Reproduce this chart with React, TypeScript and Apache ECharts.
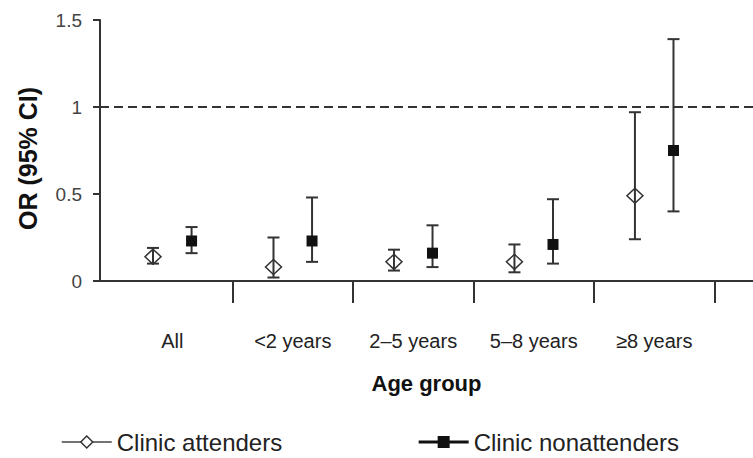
import React, { useEffect, useRef } from "react";
import * as echarts from "echarts";

const categories = ["All", "<2 years", "2–5 years", "5–8 years", "≥8 years"];
const attendersOR = [0.14, 0.08, 0.11, 0.11, 0.49];
const attendersLow = [0.10, 0.02, 0.06, 0.05, 0.24];
const attendersHigh = [0.19, 0.25, 0.18, 0.21, 0.97];
const nonattendersOR = [0.23, 0.23, 0.16, 0.21, 0.75];
const nonattendersLow = [0.16, 0.11, 0.08, 0.10, 0.40];
const nonattendersHigh = [0.31, 0.48, 0.32, 0.47, 1.39];
const yTicks = [0, 0.5, 1, 1.5];

const FONT = "'Liberation Sans', Arial, Helvetica, sans-serif";
const OFFSET = 0.16;

export default function App() {
  const ref = useRef<HTMLDivElement>(null);
  useEffect(() => {
    if (!ref.current) return;
    const chart = echarts.init(ref.current, undefined, { renderer: "svg" });

    const posA = categories.map((_, i) => i + 0.5 - OFFSET);
    const posN = categories.map((_, i) => i + 0.5 + OFFSET);

    const errA = categories.map((_, i) => [posA[i], attendersLow[i], attendersHigh[i]]);
    const errN = categories.map((_, i) => [posN[i], nonattendersLow[i], nonattendersHigh[i]]);

    const renderErr = (params: any, api: any) => {
      const x = api.value(0);
      const lo = api.value(1);
      const hi = api.value(2);
      const top = api.coord([x, hi]);
      const bot = api.coord([x, lo]);
      const cap = 6;
      const style = { stroke: "#333", lineWidth: 2 };
      return {
        type: "group",
        children: [
          { type: "line", shape: { x1: top[0], y1: top[1], x2: bot[0], y2: bot[1] }, style },
          { type: "line", shape: { x1: top[0] - cap, y1: top[1], x2: top[0] + cap, y2: top[1] }, style },
          { type: "line", shape: { x1: bot[0] - cap, y1: bot[1], x2: bot[0] + cap, y2: bot[1] }, style },
        ],
      };
    };

    chart.setOption({
      animation: false,
      textStyle: { fontFamily: FONT },
      grid: { left: 100, right: 0, top: 20, bottom: 177, containLabel: false },
      xAxis: {
        type: "value",
        min: -0.1,
        max: 5.32,
        splitLine: { show: false },
        axisLine: { onZero: false, lineStyle: { color: "#333", width: 2 } },
        axisTick: {
          show: true,
          customValues: [1, 2, 3, 4, 5],
          length: 22,
          inside: false,
          lineStyle: { color: "#333", width: 2 },
        },
        axisLabel: {
          customValues: categories.map((_, i) => i + 0.5),
          formatter: (v: number) => categories[Math.floor(v)] ?? "",
          fontSize: 20,
          color: "#222",
          fontFamily: FONT,
          margin: 50,
        },
        name: "Age group",
        nameLocation: "middle",
        nameGap: 91,
        nameTextStyle: { fontSize: 22, fontWeight: "bold", color: "#111", fontFamily: FONT },
      },
      yAxis: {
        type: "value",
        min: 0,
        max: 1.5,
        interval: 0.5,
        splitLine: { show: false },
        axisLine: { show: true, onZero: false, lineStyle: { color: "#333", width: 2 } },
        axisTick: { show: true, length: 7, inside: false, lineStyle: { color: "#333", width: 2 } },
        axisLabel: {
          fontSize: 19,
          color: "#444",
          fontFamily: FONT,
          margin: 18,
          formatter: (v: number) => (yTicks.includes(v) ? String(v) : ""),
        },
        name: "OR (95% CI)",
        nameLocation: "middle",
        nameRotate: 90,
        nameGap: 60,
        nameTextStyle: {
          fontSize: 25,
          fontWeight: "bold",
          color: "#111",
          fontFamily: FONT,
          padding: [0, 16, 0, 0],
        },
      },
      legend: {
        left: 56,
        top: 425,
        itemWidth: 50,
        itemHeight: 15,
        itemGap: 135,
        textStyle: { fontSize: 24, color: "#222", fontFamily: FONT },
        data: [
          {
            name: "Clinic attenders",
            itemStyle: { color: "#fff", borderColor: "#333", borderWidth: 1.5 },
            lineStyle: { color: "#444", width: 1.5, opacity: 1 },
          },
          {
            name: "Clinic nonattenders",
            itemStyle: { color: "#111" },
            lineStyle: { color: "#111", width: 3, opacity: 1 },
          },
        ],
      },
      series: [
        {
          name: "attenders CI",
          type: "custom",
          renderItem: renderErr,
          data: errA,
          encode: { x: 0, y: [1, 2] },
          silent: true,
          markLine: {
            silent: true,
            symbol: "none",
            label: { show: false },
            lineStyle: { type: [9, 5], color: "#333", width: 2 },
            data: [{ yAxis: 1 }],
          },
        },
        {
          name: "nonattenders CI",
          type: "custom",
          renderItem: renderErr,
          data: errN,
          encode: { x: 0, y: [1, 2] },
          silent: true,
        },
        {
          name: "Clinic attenders",
          type: "line",
          data: categories.map((_, i) => [posA[i], attendersOR[i]]),
          symbol: "diamond",
          symbolSize: [16, 15],
          showSymbol: true,
          lineStyle: { width: 0, opacity: 0 },
          itemStyle: { color: "rgba(255,255,255,0)", borderColor: "#333", borderWidth: 1.5 },
          silent: true,
        },
        {
          name: "Clinic nonattenders",
          type: "line",
          data: categories.map((_, i) => [posN[i], nonattendersOR[i]]),
          symbol: "rect",
          symbolSize: 11,
          showSymbol: true,
          lineStyle: { width: 0, opacity: 0 },
          itemStyle: { color: "#111", borderWidth: 0 },
          silent: true,
        },
      ],
    });
    return () => chart.dispose();
  }, []);

  return (
    <div
      ref={ref}
      style={{ position: "fixed", left: 0, top: 0, width: 753, height: 458, background: "#fff" }}
    />
  );
}
